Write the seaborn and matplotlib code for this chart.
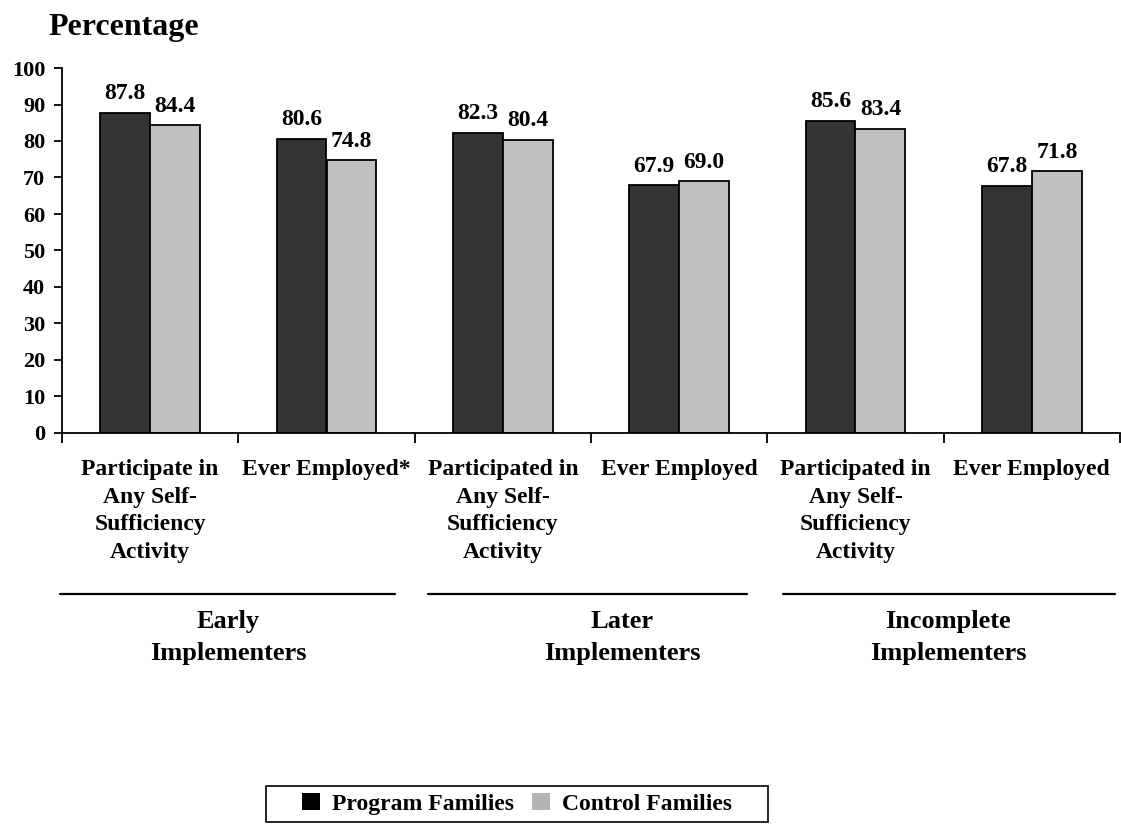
import matplotlib
matplotlib.use("Agg")
import matplotlib.pyplot as plt
from matplotlib.lines import Line2D
from matplotlib.patches import Patch, Rectangle
import pandas as pd
import seaborn as sns

sns.set_style("white")
plt.rcParams['font.family'] = ['Liberation Serif', 'DejaVu Serif']
plt.rcParams['font.weight'] = 'bold'
plt.rcParams['text.color'] = 'black'
plt.rcParams['xtick.color'] = 'black'
plt.rcParams['ytick.color'] = 'black'

# data
slots = ["s0", "s1", "s2", "s3", "s4", "s5"]
slot_labels = [
    "Participate in\nAny Self-\nSufficiency\nActivity",
    "Ever Employed*",
    "Participated in\nAny Self-\nSufficiency\nActivity",
    "Ever Employed",
    "Participated in\nAny Self-\nSufficiency\nActivity",
    "Ever Employed",
]
program = [87.8, 80.6, 82.3, 67.9, 85.6, 67.8]
control = [84.4, 74.8, 80.4, 69.0, 83.4, 71.8]
groups = ["Early\nImplementers", "Later\nImplementers", "Incomplete\nImplementers"]
series = ["Program Families", "Control Families"]

df = pd.DataFrame({
    "slot": slots * 2,
    "value": program + control,
    "series": [series[0]] * 6 + [series[1]] * 6,
})

fig = plt.figure(figsize=(11.21, 8.36), dpi=100)
ax = fig.add_axes([62 / 1121, 1 - 433 / 836, 1058 / 1121, 365 / 836])

sns.barplot(
    data=df, x="slot", y="value", hue="series", order=slots,
    hue_order=series, palette=["#333333", "#c0c0c0"],
    width=0.567, gap=0, edgecolor="black", linewidth=1.3,
    legend=False, ax=ax,
)

for cont in ax.containers:
    ax.bar_label(cont, fmt="%.1f", padding=6, fontsize=17, fontweight="bold")

ax.set_xlim(-0.5, 5.5)
ax.set_ylim(0, 100)
ax.set_yticks(range(0, 101, 10))
ax.tick_params(axis="y", labelsize=16, length=6, width=1.3, pad=6, left=True)
ax.set_xticks(range(6))
ax.set_xticklabels(slot_labels, fontsize=17, linespacing=1.4)
ax.tick_params(axis="x", which="major", length=0, pad=19)
ax.set_xticks([i - 0.5 for i in range(7)], minor=True)
ax.tick_params(axis="x", which="minor", length=7, width=1.3, bottom=True)
for lbl in ax.get_yticklabels() + ax.get_xticklabels():
    lbl.set_fontweight("bold")
ax.set_xlabel("")
ax.set_ylabel("")
sns.despine(ax=ax)
for s in ["left", "bottom"]:
    ax.spines[s].set_color("black")
    ax.spines[s].set_linewidth(1.3)

fig.text(48 / 1121, 0.984, "Percentage", fontsize=23, fontweight="bold",
         ha="left", va="top")

# group separators and labels
spans = [(60, 395), (428, 747), (783, 1115)]
label_x = [228, 622, 948]
for (x0, x1), cx, g in zip(spans, label_x, groups):
    fig.add_artist(Line2D([x0 / 1121, x1 / 1121], [1 - 594 / 836] * 2,
                          color="black", lw=1.6, transform=fig.transFigure))
    fig.text(cx / 1121, 1 - 610 / 836, g, fontsize=19,
             fontweight="bold", ha="center", va="top", linespacing=1.5)

# legend
handles = [Patch(facecolor="#000000", edgecolor="none"),
           Patch(facecolor="#b3b3b3", edgecolor="none")]
fig.legend(handles, series, loc="center", bbox_to_anchor=(517 / 1121, 1 - 804 / 836),
           ncol=2, frameon=False, handlelength=0.75,
           handleheight=0.75, handletextpad=0.5, columnspacing=0.8,
           prop={"weight": "bold", "size": 17})
fig.add_artist(Rectangle((266 / 1121, 1 - 822 / 836), 502 / 1121, 36 / 836,
                         transform=fig.transFigure, fill=False,
                         edgecolor="black", lw=1.2))

plt.savefig("out.png", dpi=100)
